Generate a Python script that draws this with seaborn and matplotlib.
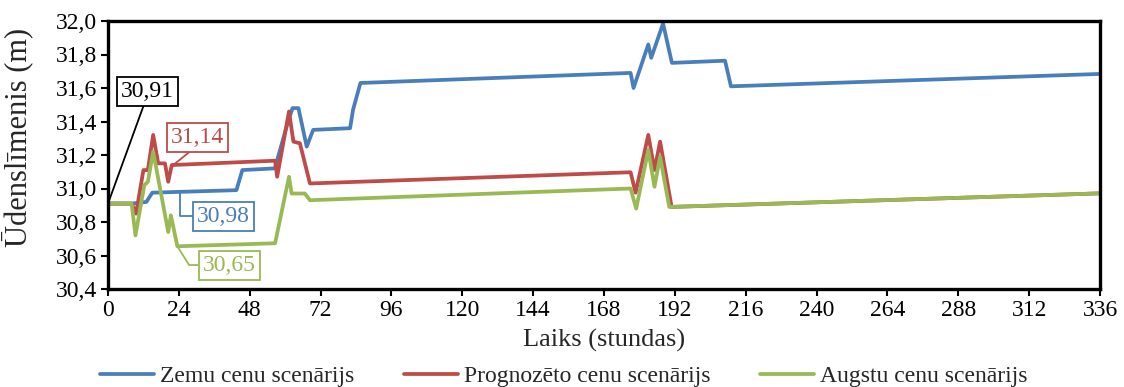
import matplotlib
matplotlib.use("Agg")
import matplotlib.pyplot as plt
import seaborn as sns
import pandas as pd

# ---------------- data ----------------
low_hours = [0, 8, 13, 15, 43.5, 45.5, 56.5, 61, 62.5, 64.5, 67.3, 69.5, 82, 83,
             85.5, 177, 178, 183, 184, 188, 191, 209, 211, 336]
low_vals = [30.91, 30.91, 30.92, 30.975, 30.99, 31.11, 31.12, 31.40, 31.48, 31.48,
            31.25, 31.35, 31.36, 31.47, 31.63, 31.69, 31.60, 31.86, 31.78, 31.985,
            31.75, 31.763, 31.61, 31.684]

fc_hours = [0, 8, 9.5, 12, 13.5, 15.3, 17, 19.3, 20.4, 21.6, 56.6, 57.3, 61.3,
            62.8, 65, 68.4, 177, 178.7, 183, 185.1, 187, 190.9, 336]
fc_vals = [30.91, 30.91, 30.85, 31.11, 31.11, 31.32, 31.15, 31.15, 31.04, 31.14,
           31.166, 31.07, 31.46, 31.28, 31.27, 31.03, 31.097, 30.975, 31.32, 31.11,
           31.28, 30.89, 30.971]

high_hours = [0, 8, 9.3, 12.3, 13.5, 15.3, 20.4, 21.3, 23.5, 56.6, 61.3, 62.2,
              66.7, 68.4, 177, 178.9, 183, 185.1, 187, 190.1, 336]
high_vals = [30.91, 30.91, 30.72, 31.02, 31.04, 31.22, 30.74, 30.84, 30.655, 30.673,
             31.07, 30.97, 30.97, 30.93, 31.00, 30.88, 31.23, 31.01, 31.19, 30.89,
             30.971]

series_names = ["Zemu cenu scenārijs", "Prognozēto cenu scenārijs", "Augstu cenu scenārijs"]
series_colors = ["#4A7EBB", "#BE4B48", "#98B954"]

x_ticks = list(range(0, 337, 24))
y_ticks = [30.4, 30.6, 30.8, 31.0, 31.2, 31.4, 31.6, 31.8, 32.0]

callout_texts = ["30,91", "31,14", "30,98", "30,65"]

# ---------------- plot ----------------
sns.set_style("ticks")
plt.rcParams["font.family"] = ["Liberation Serif", "DejaVu Serif"]
plt.rcParams["axes.unicode_minus"] = False

fig = plt.figure(figsize=(11.24, 3.87), dpi=100)
ax = fig.add_axes([108 / 1124, 1 - 289 / 387, 992 / 1124, 268 / 387])

for hrs, vals, name, col in zip([low_hours, fc_hours, high_hours],
                                [low_vals, fc_vals, high_vals],
                                series_names, series_colors):
    df = pd.DataFrame({"Laiks": hrs, "Līmenis": vals})
    sns.lineplot(data=df, x="Laiks", y="Līmenis", ax=ax, color=col, label=name,
                 linewidth=2.7, sort=False, estimator=None)

ax.set_xlim(0, 336)
ax.set_ylim(30.4, 32.0)
ax.set_xticks(x_ticks)
ax.set_xticklabels([str(t) for t in x_ticks])
ax.set_yticks(y_ticks)
ax.set_yticklabels([f"{t:.1f}".replace(".", ",") for t in y_ticks])
ax.tick_params(axis="both", direction="out", length=5, width=1.5, labelsize=17,
               color="black", labelcolor="black", pad=3)

for sp in ax.spines.values():
    sp.set_visible(True)
    sp.set_color("black")
    sp.set_linewidth(2.4)

ax.set_xlabel("Laiks (stundas)", fontsize=19)
ax.set_ylabel("Ūdenslīmenis (m)", fontsize=22)
ax.xaxis.set_label_coords(0.5, -0.15)
ax.yaxis.set_label_coords(-0.075, 0.567)

# callouts
bbox_kw = dict(boxstyle="square,pad=0.17", fc="white", lw=1.3)
ax.annotate(callout_texts[0], xy=(0, 30.91), xytext=(13.4, 31.579),
            fontsize=17, color="black", ha="center", va="center",
            bbox=dict(bbox_kw, ec="black"),
            arrowprops=dict(arrowstyle="-", color="black", lw=1.3,
                            relpos=(0.45, 0.0), shrinkA=0, shrinkB=0))
ax.annotate(callout_texts[1], xy=(22.1, 31.14), xytext=(30.3, 31.307),
            fontsize=17, color=series_colors[1], ha="center", va="center",
            bbox=dict(bbox_kw, ec=series_colors[1]),
            arrowprops=dict(arrowstyle="-", color=series_colors[1], lw=1.3,
                            relpos=(0.45, 0.0), shrinkA=0, shrinkB=0))
ax.annotate(callout_texts[2], xy=(24.4, 30.98), xytext=(39.2, 30.834),
            fontsize=17, color=series_colors[0], ha="center", va="center",
            bbox=dict(bbox_kw, ec=series_colors[0]),
            arrowprops=dict(arrowstyle="-", color=series_colors[0], lw=1.3,
                            relpos=(0.0, 0.5), shrinkA=0, shrinkB=0,
                            connectionstyle="angle,angleA=0,angleB=90,rad=0"))
ax.annotate(callout_texts[3], xy=(23.5, 30.655), xytext=(41.1, 30.543),
            fontsize=17, color=series_colors[2], ha="center", va="center",
            bbox=dict(bbox_kw, ec=series_colors[2]),
            arrowprops=dict(arrowstyle="-", color=series_colors[2], lw=1.3,
                            relpos=(0.0, 0.5), shrinkA=0, shrinkB=0,
                            connectionstyle="angle,angleA=0,angleB=-58,rad=0"))

handles, labels = ax.get_legend_handles_labels()
ax.legend(handles, labels, loc="center", bbox_to_anchor=(0.5015, 0.028),
          bbox_transform=fig.transFigure, ncol=3, frameon=False, fontsize=17,
          handlelength=2.3, handletextpad=0.25, columnspacing=2.1,
          borderaxespad=0, borderpad=0)

fig.savefig("out.png", dpi=100)
